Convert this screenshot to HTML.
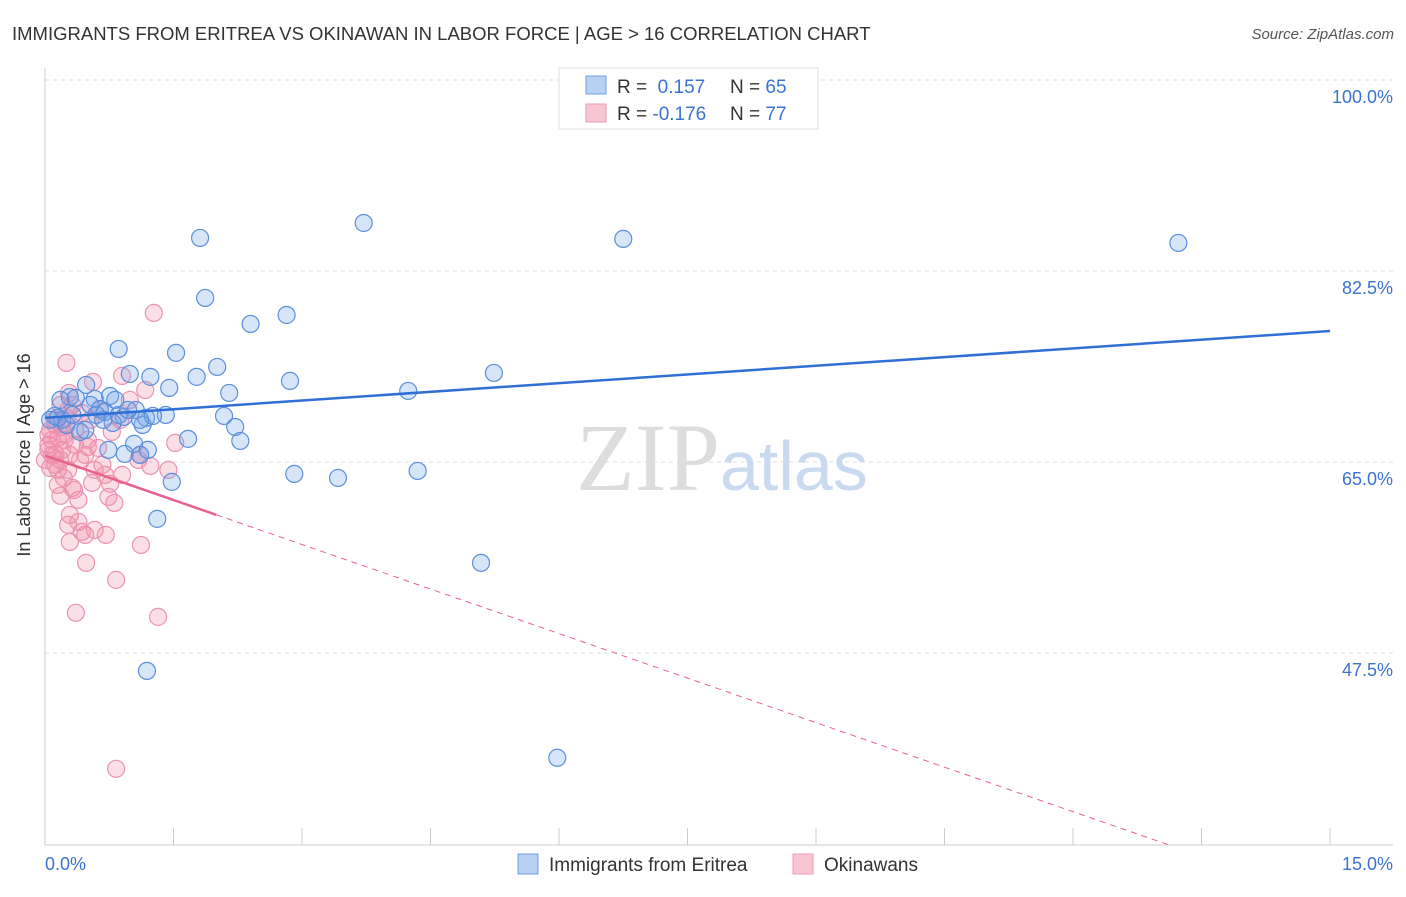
<!DOCTYPE html>
<html><head><meta charset="utf-8"><style>
body{margin:0;background:#fff;font-family:"Liberation Sans",sans-serif}
</style></head><body>
<svg id="c" width="1406" height="892" xmlns="http://www.w3.org/2000/svg" style="font-family:'Liberation Sans',sans-serif">
<text x="12" y="40" font-size="18.5" fill="#333">IMMIGRANTS FROM ERITREA VS OKINAWAN IN LABOR FORCE | AGE &gt; 16 CORRELATION CHART</text>
<text x="1394" y="39" font-size="15" fill="#555" font-style="italic" text-anchor="end">Source: ZipAtlas.com</text>
<g id="grid"></g>
<text x="720" y="490" font-size="96" fill="#ddd" text-anchor="end" font-family="'Liberation Serif',serif">ZIP</text>
<text x="720" y="490" font-size="70" fill="#c9daf0">atlas</text>
<g id="pts"></g>
<g id="lines"></g>
<text x="30" y="455" font-size="18" fill="#333" text-anchor="middle" transform="rotate(-90 30 455)">In Labor Force | Age &gt; 16</text>
<text x="45" y="870" font-size="18" fill="#3b73d1">0.0%</text>
<text x="1393" y="870" font-size="18" fill="#3b73d1" text-anchor="end">15.0%</text>
<g>
<rect x="559" y="68" width="259" height="61" fill="#fff" stroke="#ddd"/>
<rect x="586" y="76" width="20" height="18" fill="#b8d1f3" stroke="#6f9de0"/>
<rect x="586" y="104" width="20" height="18" fill="#f8c5d4" stroke="#eb9ab4"/>
<text x="617" y="93" font-size="19" fill="#333">R = <tspan fill="#3b73d1">&#160;0.157</tspan><tspan x="730">N = </tspan><tspan fill="#3b73d1">65</tspan></text>
<text x="617" y="120" font-size="19" fill="#333">R = <tspan fill="#3b73d1">-0.176</tspan><tspan x="730">N = </tspan><tspan fill="#3b73d1">77</tspan></text>
</g>
<g>
<rect x="518" y="854" width="20" height="20" fill="#b8d1f3" stroke="#6f9de0"/>
<text x="549" y="871" font-size="19" fill="#333">Immigrants from Eritrea</text>
<rect x="793" y="854" width="20" height="20" fill="#f8c5d4" stroke="#eb9ab4"/>
<text x="824" y="871" font-size="19" fill="#333">Okinawans</text>
</g>
</svg>
<script>
const yTicks=[100,82.5,65,47.5];
const yTickLabels=["100.0%","82.5%","65.0%","47.5%"];
const xTicks=[0,1.5,3,4.5,6,7.5,9,10.5,12,13.5,15];
const blueX=[1.81,3.72,6.75,13.23,1.87,2.40,2.82,0.86,1.53,2.01,1.23,0.99,1.77,2.86,1.45,2.15,4.24,5.24,0.48,0.76,0.29,0.58,0.64,1.06,1.41,1.18,0.92,2.09,0.11,0.20,0.41,1.14,2.22,0.79,1.67,2.28,1.04,0.93,1.11,2.91,3.42,4.35,1.48,1.31,5.09,1.19,5.98,0.15,0.25,0.53,0.70,0.36,0.06,0.86,1.26,0.68,1.11,0.18,0.47,0.97,0.32,0.60,0.74,1.20,0.82];
const blueY=[85.53,86.90,85.44,85.07,80.03,77.65,78.47,75.36,75.0,73.71,72.8,73.07,72.8,72.43,71.79,71.33,71.51,73.16,72.06,71.05,70.96,70.78,69.86,69.77,69.31,69.04,69.13,69.22,69.22,68.86,67.76,68.4,68.21,68.58,67.12,66.93,66.66,65.74,65.65,63.91,63.54,64.18,63.18,59.79,55.76,45.86,37.9,69.04,68.4,70.23,69.59,70.87,68.86,69.31,69.22,68.86,68.86,70.69,67.94,69.77,69.31,69.31,66.11,66.11,70.69];
const pinkX=[1.27,0.25,0.56,0.90,1.17,0.28,0.18,0.27,0.43,0.12,0.06,0.15,0.04,0.08,0.18,0.12,0.23,0.35,0.50,0.62,0.29,0.41,0.06,0.15,0.22,0.32,0.55,0.76,0.34,0.18,0.74,0.81,0.70,0.29,0.27,0.39,0.47,0.43,0.29,0.71,0.58,1.12,0.48,0.83,0.36,1.32,0.83,0.90,1.23,1.44,1.52,1.09,0.78,0.53,0.64,0.20,0.04,0.12,0.35,0.23,0.08,0.20,0.47,0.58,0.27,0.15,0.39,0.67,0.88,0.99,0,0.04,0.12,0.32,0.25,0.50,1.11];
const pinkY=[78.66,74.08,72.34,72.89,71.6,71.33,70.23,69.77,69.5,68.86,67.94,67.21,66.57,65.65,65.19,64.73,67.02,66.57,66.38,66.29,65.65,65.19,64.46,64.28,63.54,62.63,63.09,63.0,62.44,61.9,61.8,61.25,63.82,60.15,59.24,59.51,58.32,58.6,57.68,58.32,58.78,57.4,55.76,54.2,51.18,50.81,36.89,63.82,64.64,64.28,66.75,65.19,67.76,68.86,69.77,68.21,66.11,68.4,67.94,67.48,67.02,66.11,65.65,64.28,64.28,62.9,61.53,64.73,68.86,70.69,65.19,67.48,65.65,70.23,69.04,67.02,65.65];
const blueTrend=[69.04,77.0];   // y at x=0 and x=15
const pinkTrend=[65.6,-2.72];   // intercept, slope per %
const pinkSolidEnd=2.0;
const X=v=>45+v/15*1285, Y=v=>80+(100-v)*191/17.5;
const NS="http://www.w3.org/2000/svg";
function mk(p,t,a){const e=document.createElementNS(NS,t);for(const k in a)e.setAttribute(k,a[k]);p.appendChild(e);return e;}
const g=document.getElementById('grid');
yTicks.forEach((t,i)=>{
 const l=mk(g,'line',{x1:45,x2:1393,y1:Y(t),y2:Y(t),stroke:'#ddd','stroke-dasharray':'4 4'});
 
 
 const tx=mk(g,'text',{x:1393,y:Y(t)+23,'font-size':18,fill:'#3b73d1','text-anchor':'end'});
 tx.textContent=yTickLabels[i];
 
 
});
const ax=mk(g,'line',{x1:45,x2:45,y1:68,y2:845,stroke:'#ccc'});


const bx=mk(g,'line',{x1:45,x2:1393,y1:845,y2:845,stroke:'#ccc'});


xTicks.forEach(t=>{const l=mk(g,'line',{x1:X(t),x2:X(t),y1:828,y2:845,stroke:'#ccc'});
 
 });
const P=document.getElementById('pts');
pinkX.forEach((x,i)=>{const c=mk(P,'circle',{cx:X(x),cy:Y(pinkY[i]),r:8.5,fill:'rgba(240,140,170,0.28)',stroke:'#eb93b0','stroke-width':1.2});
 
 });
blueX.forEach((x,i)=>{const c=mk(P,'circle',{cx:X(x),cy:Y(blueY[i]),r:8.5,fill:'rgba(110,160,230,0.28)',stroke:'#5b8fdc','stroke-width':1.2});
 
 });
const L=document.getElementById('lines');
const bl=mk(L,'line',{x1:X(0),y1:Y(blueTrend[0]),x2:X(15),y2:Y(blueTrend[1]),stroke:'#2f6fd6','stroke-width':2.5});


const pf=x=>pinkTrend[0]+pinkTrend[1]*x;
const ps=mk(L,'line',{x1:X(0),y1:Y(pf(0)),x2:X(pinkSolidEnd),y2:Y(pf(pinkSolidEnd)),stroke:'#e8628e','stroke-width':2.5});


const xe=(29.9-pinkTrend[0])/pinkTrend[1];
const pd=mk(L,'line',{x1:X(pinkSolidEnd),y1:Y(pf(pinkSolidEnd)),x2:X(xe),y2:Y(pf(xe)),stroke:'#e8628e','stroke-width':1,'stroke-dasharray':'6 5'});


</script>
</body></html>
